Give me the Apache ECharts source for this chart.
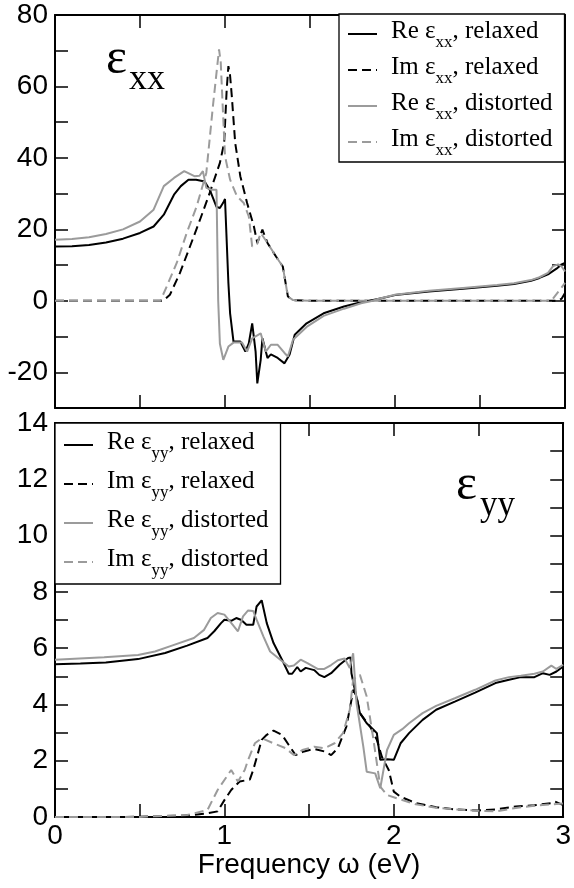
<!DOCTYPE html>
<html><head><meta charset="utf-8">
<script src="https://cdn.jsdelivr.net/npm/echarts@6/dist/echarts.min.js"></script>
<style>html,body{margin:0;padding:0;background:#fff}#c{width:574px;height:888px}</style>
</head><body><div id="c"></div>
<script>
// ---- data: [frequency (eV), value] ----
const xxReRelaxed = [[0,15.2],[0.1,15.3],[0.2,15.6],[0.3,16.3],[0.4,17.4],[0.5,19.0],[0.58,20.8],[0.64,24.1],[0.7,29.7],[0.74,32.1],[0.785,33.9],[0.83,33.9],[0.88,33.4],[0.91,31.1],[0.95,26.3],[0.97,26.0],[0.99,27.5],[1.0,28.5],[1.02,5],[1.03,-3.5],[1.05,-11.4],[1.09,-11.4],[1.12,-14.2],[1.14,-11.9],[1.16,-6.3],[1.18,-14.2],[1.19,-23.1],[1.21,-16.5],[1.22,-10.5],[1.25,-16],[1.27,-15],[1.31,-16],[1.35,-17.5],[1.38,-15],[1.41,-9.5],[1.48,-6.3],[1.58,-3.5],[1.7,-1.6],[1.8,-0.4],[1.85,0],[1.9,0.5],[2.0,1.6],[2.2,2.6],[2.4,3.4],[2.6,4.2],[2.7,4.7],[2.8,5.6],[2.85,6.4],[2.9,7.4],[2.95,9.0],[2.98,10.2],[3.0,10.6]];
const xxImRelaxed = [[0,0],[0.5,0],[0.636,0],[0.676,1.7],[0.735,7.8],[0.794,15.2],[0.853,22.7],[0.91,30.2],[0.97,38.6],[0.995,44.2],[1.01,59.2],[1.02,65.7],[1.03,63],[1.04,57.3],[1.06,44.2],[1.09,34.9],[1.13,27.4],[1.17,20.8],[1.19,16.2],[1.22,19.9],[1.25,16.2],[1.3,12.4],[1.34,9.6],[1.37,1.2],[1.4,0.2],[1.5,0],[2.0,0],[2.5,0],[2.96,0],[2.98,0.6],[3.0,2.2]];
const xxReDistorted = [[0,17.1],[0.1,17.3],[0.2,17.8],[0.3,18.7],[0.4,20],[0.5,22.2],[0.58,25.5],[0.64,32.1],[0.7,34.4],[0.76,36.3],[0.82,34.9],[0.85,35],[0.87,36.3],[0.89,31.6],[0.92,31.1],[0.95,31.1],[0.96,0],[0.97,-12],[0.99,-16.5],[1.02,-12.8],[1.05,-11.7],[1.1,-11.7],[1.13,-14.2],[1.16,-10.5],[1.21,-9.1],[1.24,-14.2],[1.27,-12.3],[1.31,-12.3],[1.35,-14.6],[1.37,-15.6],[1.4,-10.9],[1.48,-7.3],[1.58,-4.2],[1.7,-2.2],[1.8,-0.7],[1.87,0],[1.9,0.5],[2.0,1.7],[2.2,2.8],[2.4,3.6],[2.6,4.4],[2.7,4.9],[2.8,5.8],[2.85,6.6],[2.9,7.8],[2.93,9.7],[2.96,10.2],[2.98,9.6],[3.0,8.2]];
const xxImDistorted = [[0,0],[0.5,0],[0.62,0],[0.657,4],[0.716,10.6],[0.775,19],[0.833,26.4],[0.89,35.8],[0.93,55],[0.965,70.4],[0.975,66.7],[0.99,50.8],[1.0,40.5],[1.03,33.9],[1.07,29.3],[1.11,27.4],[1.14,23.6],[1.16,15.2],[1.19,16],[1.21,19],[1.25,16.2],[1.3,12.4],[1.34,9.6],[1.37,1.2],[1.4,0.2],[1.5,0],[2.0,0],[2.5,0],[2.92,0],[2.96,2.5],[3.0,5]];

const yyReRelaxed = [[0,5.43],[0.15,5.45],[0.3,5.49],[0.49,5.61],[0.65,5.83],[0.78,6.09],[0.9,6.36],[0.94,6.6],[0.98,6.89],[1.0,7.01],[1.04,6.97],[1.07,7.07],[1.1,7.0],[1.13,6.83],[1.17,6.83],[1.19,7.48],[1.22,7.7],[1.25,6.89],[1.29,6.18],[1.34,5.59],[1.38,5.09],[1.4,5.09],[1.43,5.33],[1.45,5.17],[1.48,5.3],[1.53,5.22],[1.56,5.05],[1.59,4.97],[1.63,5.11],[1.68,5.41],[1.73,5.65],[1.745,5.67],[1.75,5.11],[1.77,4.52],[1.8,3.69],[1.84,3.33],[1.88,3.1],[1.9,2.98],[1.92,2.03],[1.96,2.05],[2.0,2.03],[2.04,2.62],[2.09,2.98],[2.17,3.45],[2.25,3.81],[2.36,4.1],[2.48,4.42],[2.6,4.76],[2.68,4.88],[2.75,4.97],[2.83,4.97],[2.88,5.11],[2.92,5.05],[2.96,5.17],[3.0,5.35]];
const yyImRelaxed = [[0,0],[0.4,0],[0.6,0.02],[0.8,0.06],[0.9,0.13],[0.96,0.2],[1.0,0.6],[1.04,0.96],[1.09,1.26],[1.15,1.33],[1.17,1.67],[1.22,2.74],[1.25,2.92],[1.29,3.07],[1.34,2.92],[1.38,2.56],[1.42,2.2],[1.47,2.33],[1.53,2.42],[1.59,2.33],[1.63,2.2],[1.67,2.45],[1.72,3.21],[1.75,4.16],[1.76,4.52],[1.78,4.3],[1.8,3.69],[1.86,3.21],[1.9,2.74],[1.93,2.13],[1.97,1.67],[2.0,0.9],[2.04,0.72],[2.13,0.49],[2.25,0.35],[2.36,0.27],[2.5,0.23],[2.6,0.27],[2.72,0.37],[2.83,0.42],[2.93,0.49],[2.95,0.55],[3.0,0.42]];
const yyReDistorted = [[0,5.59],[0.29,5.68],[0.49,5.76],[0.59,5.88],[0.69,6.09],[0.82,6.36],[0.88,6.65],[0.92,7.07],[0.96,7.25],[1.0,7.19],[1.04,6.9],[1.08,6.6],[1.11,7.13],[1.14,7.34],[1.17,7.32],[1.19,7.01],[1.23,6.42],[1.27,5.88],[1.33,5.59],[1.38,5.35],[1.41,5.38],[1.45,5.59],[1.49,5.47],[1.55,5.26],[1.59,5.26],[1.63,5.4],[1.67,5.57],[1.71,5.63],[1.74,5.29],[1.76,5.82],[1.78,4.05],[1.82,2.5],[1.84,1.61],[1.89,1.55],[1.92,1.02],[1.96,2.38],[2.0,2.92],[2.05,3.12],[2.09,3.33],[2.17,3.69],[2.25,3.95],[2.36,4.22],[2.48,4.52],[2.6,4.85],[2.68,4.97],[2.75,5.02],[2.83,5.09],[2.88,5.17],[2.93,5.38],[2.96,5.26],[3.0,5.41]];
const yyImDistorted = [[0,0],[0.5,0],[0.6,0.03],[0.78,0.07],[0.9,0.25],[0.96,0.96],[1.04,1.67],[1.08,1.26],[1.12,1.67],[1.14,2.03],[1.18,2.62],[1.22,2.8],[1.29,2.62],[1.36,2.45],[1.41,2.2],[1.46,2.38],[1.53,2.5],[1.59,2.44],[1.65,2.62],[1.7,2.98],[1.74,3.81],[1.76,4.88],[1.8,5.05],[1.84,4.28],[1.88,2.74],[1.92,1.08],[1.96,0.78],[2.02,0.66],[2.13,0.45],[2.25,0.33],[2.36,0.27],[2.5,0.22],[2.6,0.2],[2.72,0.32],[2.83,0.4],[2.93,0.45],[3.0,0.48]];

const xTickLabels = [0, 1, 2, 3];
const xxTickLabels = [-20, 0, 20, 40, 60, 80];
const yyTickLabels = [0, 2, 4, 6, 8, 10, 12, 14];
const xxNames = ['Re ε_xx, relaxed', 'Im ε_xx, relaxed', 'Re ε_xx, distorted', 'Im ε_xx, distorted'];
const yyNames = ['Re ε_yy, relaxed', 'Im ε_yy, relaxed', 'Re ε_yy, distorted', 'Im ε_yy, distorted'];
const xTitle = 'Frequency ω (eV)';

const BLACK = '#000000', GRAY = '#9b9b9b';
const SANS = '"Liberation Sans", Arial, sans-serif';
const SERIF = '"Liberation Serif", "Times New Roman", serif';

const chart = echarts.init(document.getElementById('c'), null, { renderer: 'canvas' });

function xAxisDef(grid, pos, showLabels) {
  const a = {
    gridIndex: grid, type: 'value', position: pos, min: 0, max: 3, interval: 0.5,
    axisLine: { show: true, onZero: false, lineStyle: { color: BLACK, width: 2 } },
    axisTick: { show: true, inside: true, length: 13, lineStyle: { color: BLACK, width: 1.5 } },
    splitLine: { show: false },
    axisLabel: { show: showLabels, margin: 5, fontFamily: SANS, fontSize: 28, color: BLACK,
      formatter: v => xTickLabels.includes(v) ? String(v) : '' }
  };
  if (showLabels) {
    a.name = xTitle; a.nameLocation = 'middle'; a.nameGap = 31;
    a.nameTextStyle = { fontFamily: SANS, fontSize: 28, color: BLACK };
  }
  return a;
}
function yAxisDef(grid, pos, min, max, interval, labels, showLabels) {
  return {
    gridIndex: grid, type: 'value', position: pos, min: min, max: max, interval: interval,
    axisLine: { show: true, onZero: false, lineStyle: { color: BLACK, width: 2 } },
    axisTick: { show: true, inside: true, length: 13, lineStyle: { color: BLACK, width: 1.5 } },
    splitLine: { show: false },
    axisLabel: { show: showLabels, margin: 7, fontFamily: SANS, fontSize: 28, color: BLACK,
      formatter: v => labels.includes(v) ? String(v) : '' }
  };
}
function lineSeries(name, data, xi, yi, color, dashed) {
  return {
    name: name, type: 'line', data: data, xAxisIndex: xi, yAxisIndex: yi,
    showSymbol: false, symbol: 'none', smooth: false, clip: true,
    lineStyle: { color: color, width: 2, type: dashed ? [9, 5] : 'solid' },
    itemStyle: { color: color }, z: 3
  };
}
// "Re ε_xx, relaxed" -> main text + subscript tokens
const fmt = n => { const m = n.match(/^(.*?)_(\w+)(.*)$/); return '{m|' + m[1] + '}{sub|' + m[2] + '}{m|' + m[3] + '}'; };
function legendDef(names, left, top, padTop, gap) {
  return {
    data: names, orient: 'vertical', left: left, top: top,
    padding: [padTop, 12, padTop, 8], itemGap: gap, itemWidth: 29, itemHeight: 12,
    borderColor: BLACK, borderWidth: 1.3, backgroundColor: '#fff', selectedMode: false,
    itemStyle: { color: 'rgba(0,0,0,0)', borderWidth: 0, opacity: 0 },
    formatter: fmt,
    textStyle: { fontFamily: SERIF, fontSize: 25, color: BLACK, padding: [0, 0, 0, 9],
      rich: {
        m: { fontFamily: SERIF, fontSize: 25, color: BLACK, lineHeight: 25, padding: [0, 0, 6, 0] },
        sub: { fontFamily: SERIF, fontSize: 17, color: BLACK, lineHeight: 17, padding: [18, 0, 0, 0] }
      } }
  };
}

const option = {
  animation: false,
  backgroundColor: '#ffffff',
  grid: [
    { left: 55, top: 15, width: 510, height: 393 },
    { left: 55, top: 423, width: 510, height: 394 }
  ],
  xAxis: [xAxisDef(0, 'bottom', false), xAxisDef(0, 'top', false), xAxisDef(1, 'bottom', true), xAxisDef(1, 'top', false)],
  yAxis: [
    yAxisDef(0, 'left', -30, 80, 10, xxTickLabels, true), yAxisDef(0, 'right', -30, 80, 10, xxTickLabels, false),
    yAxisDef(1, 'left', 0, 14, 1, yyTickLabels, true), yAxisDef(1, 'right', 0, 14, 1, yyTickLabels, false)
  ],
  legend: [legendDef(xxNames, 339, 14, 2.5, 1), legendDef(yyNames, 55, 423, 4.5, 4)],
  series: [
    lineSeries(xxNames[0], xxReRelaxed, 0, 0, BLACK, false),
    lineSeries(xxNames[1], xxImRelaxed, 0, 0, BLACK, true),
    lineSeries(xxNames[2], xxReDistorted, 0, 0, GRAY, false),
    lineSeries(xxNames[3], xxImDistorted, 0, 0, GRAY, true),
    lineSeries(yyNames[0], yyReRelaxed, 2, 2, BLACK, false),
    lineSeries(yyNames[1], yyImRelaxed, 2, 2, BLACK, true),
    lineSeries(yyNames[2], yyReDistorted, 2, 2, GRAY, false),
    lineSeries(yyNames[3], yyImDistorted, 2, 2, GRAY, true)
  ],
  graphic: [
    { type: 'text', x: 106, y: 60, z: 10, style: { text: 'ε', fontFamily: SERIF, fontSize: 50, fill: BLACK, verticalAlign: 'middle' } },
    { type: 'text', x: 129, y: 80, z: 10, style: { text: 'xx', fontFamily: SERIF, fontSize: 36, fill: BLACK, verticalAlign: 'middle' } },
    { type: 'text', x: 456, y: 486, z: 10, style: { text: 'ε', fontFamily: SERIF, fontSize: 50, fill: BLACK, verticalAlign: 'middle' } },
    { type: 'text', x: 480, y: 506, z: 10, style: { text: 'yy', fontFamily: SERIF, fontSize: 35, fill: BLACK, verticalAlign: 'middle' } }
  ]
};
chart.setOption(option);
</script>
</body></html>
